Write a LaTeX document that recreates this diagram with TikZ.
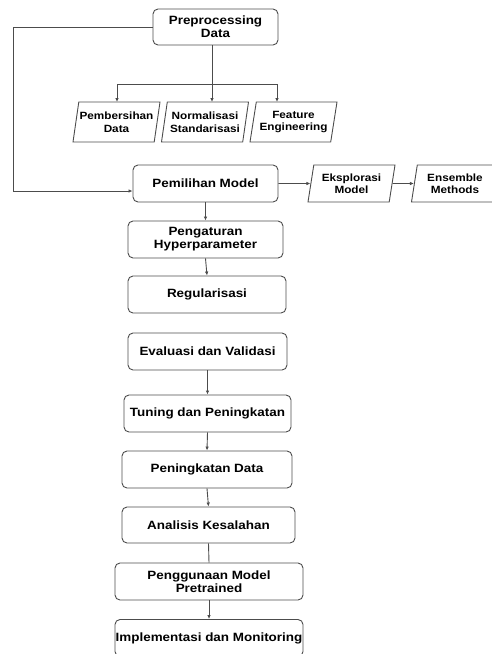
\documentclass[tikz,border=0pt]{standalone}
\usepackage{fontspec}
\setmainfont{Liberation Sans}
\newfontfamily\kastenfont[FakeStretch=1.12]{Liberation Sans}
\usetikzlibrary{shapes.geometric,arrows.meta}
\begin{document}
\begin{tikzpicture}[x=1pt,y=-1pt,
    kasten/.style={draw=black!70,line width=0.9pt,rounded corners=5pt,align=center,
      font=\kastenfont\fontsize{12}{13}\selectfont\bfseries,inner sep=0pt},
    jajar/.style={draw=black!70,line width=0.9pt,trapezium,trapezium left angle=74,
      trapezium right angle=106,trapezium stretches body,align=center,
      font=\kastenfont\fontsize{10.5}{12.5}\selectfont\bfseries,inner sep=0pt},
    pfeil/.style={draw=black!70,line width=0.9pt,-{Latex[length=4pt,width=3.5pt]}},
    linie/.style={draw=black!70,line width=0.9pt}]
        \useasboundingbox (0,0) rectangle (491,654);
        % Kaesten
        \node[kasten,minimum width=125pt,minimum height=36pt] (prep) at (215.5,27) {Preprocessing\\Data};
        \node[jajar,minimum width=87pt,minimum height=40pt] (bersih) at (116.5,122) {Pembersihan\\Data};
        \node[jajar,minimum width=87pt,minimum height=40pt] (norm) at (205,122) {Normalisasi\\Standarisasi};
        \node[jajar,minimum width=87pt,minimum height=40pt] (feat) at (293.5,122) {Feature\\Engineering};
        \node[kasten,minimum width=145pt,minimum height=37pt] (pem) at (205.5,183.5) {Pemilihan Model};
        \node[jajar,minimum width=87pt,minimum height=37pt] (eks) at (351.5,183.5) {Eksplorasi\\Model};
        \node[jajar,minimum width=87pt,minimum height=37pt] (ens) at (455,183.5) {Ensemble\\Methods};
        \node[kasten,minimum width=155pt,minimum height=37pt] (hyp) at (205.5,239.5) {Pengaturan\\Hyperparameter};
        \node[kasten,minimum width=158pt,minimum height=37pt] (reg) at (207,294.5) {Regularisasi};
        \node[kasten,minimum width=159pt,minimum height=37pt] (eval) at (207.5,351.5) {Evaluasi dan Validasi};
        \node[kasten,minimum width=167pt,minimum height=37pt] (tun) at (207.5,413.5) {Tuning dan Peningkatan};
        \node[kasten,minimum width=170pt,minimum height=37pt] (pdat) at (207,469.5) {Peningkatan Data};
        \node[kasten,minimum width=173pt,minimum height=36pt] (anal) at (208.5,525) {Analisis Kesalahan};
        \node[kasten,minimum width=188pt,minimum height=37pt] (pret) at (209,581.5) {Penggunaan Model\\Pretrained};
        \node[kasten,minimum width=188pt,minimum height=37pt] (impl) at (209,638) {Implementasi dan Monitoring};
        % Verzweigung
        \coordinate (gabel) at (212,84);
        \draw[linie] (prep.south -| gabel) -- (gabel);
        \draw[linie] (117,84) -- (277,84);
        \draw[pfeil] (117,84) -- (117,102);
        \draw[pfeil] (gabel) -- (212,102);
        \draw[pfeil] (277,84) -- (277,102);
        % Rueckfuehrung links
        \coordinate (links) at (13,191);
        \draw[pfeil] (prep.west) -| (links) -- (pem.west |- links);
        % Pfeile
        \draw[pfeil] (pem) -- (eks);
        \draw[pfeil] (eks) -- (ens);
        \draw[pfeil] (pem.south) -- (hyp.north);
        \draw[pfeil] (hyp.south) -- (reg.north);
        \draw[pfeil] (eval.south) -- (tun.north);
        \draw[pfeil] (tun.south) -- (pdat.north);
        \draw[pfeil] (pdat.south) -- (anal.north);
        \draw[linie] (anal.south) -- (pret.north);
        \draw[pfeil] (pret.south) -- (impl.north);
    \end{tikzpicture}
\end{document}
